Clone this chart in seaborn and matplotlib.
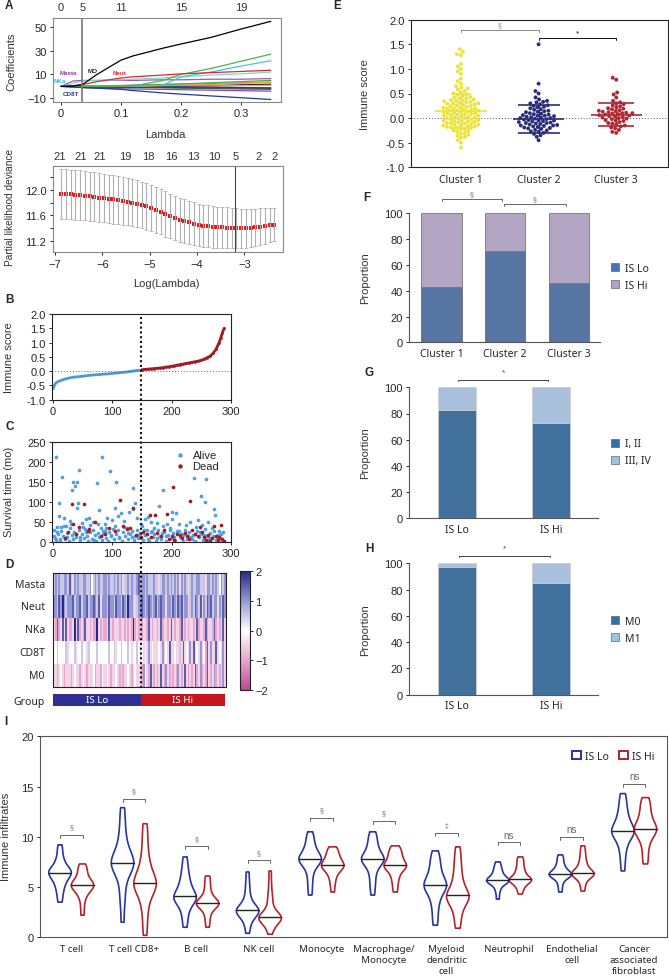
import numpy as np
import pandas as pd
import matplotlib
matplotlib.use("Agg")
import matplotlib.pyplot as plt
import matplotlib.transforms as mtrans
import seaborn as sns
from matplotlib.colors import LinearSegmentedColormap
from matplotlib.lines import Line2D
from matplotlib.patches import Patch

# ── DATA ─────────────────────────────────────────────────────
# A (top): lasso coefficient paths at knot values of lambda
lam_knots = [0, 0.02, 0.0356, 0.06, 0.1, 0.12, 0.17, 0.2, 0.25, 0.3, 0.35]
coef_paths = [
    [0, 0, 0, 0, 0, 0, 0, 0.3, 0.8, 1.3, 1.8],
    [0, 0, 0, 0, 0, 0, 0, 0, -0.5, -1, -1.5],
    [0, 0, 0, 0, 0, 0, 0, 0.2, 0.4, 0.6, 0.8],
    [0, 0, 0, 0, 0, 0, -0.2, -0.4, -0.7, -1.0, -1.3],
    [0, 0, 0, 0.3, 0.8, 1, 1.5, 2, 2.5, 3, 3.5],
    [0, 0, 0, 0, 0, 0, 0.5, 1, 1.5, 2.5, 3.5],
    [0, 0, -0.3, -0.5, -0.8, -1, -1.2, -1.5, -1.8, -2.2, -2.5],
    [0, -0.3, -0.6, -0.8, -0.8, -0.8, -0.9, -1, -1.2, -1.4, -1.6],
    [0, 0, 0, 0, 0.5, 1, 1.5, 2, 3, 4, 5],
    [0, -0.5, -1, -1.5, -2, -2.2, -2.5, -2.8, -3.2, -3.6, -4],
    [0, 4.5, 5, 5, 5, 5, 5.5, 5.5, 6, 6, 6.5],
    [0, 2.5, 4.5, 5, 5.5, 6, 7, 8, 9.5, 10.5, 12],
    [0, 0, 0, 0, 0, 0, 1, 8, 12, 17, 21.5],
    [0, 0, 0, 0, 0, 0.2, 5, 10, 15, 21, 27],
    [0, 0.5, 1.5, 4, 7, 8, 9.5, 10.5, 11.5, 12.5, 13.5],
    [0, -0.5, -1, -1.5, -2.5, -3.5, -5.5, -6.5, -8, -9.5, -11],
    [0, 0.3, 1.5, 10, 22, 25.5, 32, 35.5, 41, 48, 54.5],
]
coef_colors = ['#222222', '#999999', '#f08fc0', '#2a2a80', '#f26d6d', '#e6a23c',
               '#2e7d32', '#444444', '#3cb043', '#8e44ad', '#a05aa8', '#7fd6d6',
               '#45c3e6', '#4cb648', '#e3262b', '#1f3d99', '#000000']
lam_min = 0.0356
top_nz_pos = [0, 0.0356, 0.1, 0.2, 0.3]
top_nz_lab = ['0', '5', '11', '15', '19']
path_names = ['Masta', 'NKa', 'MO', 'Neut', 'CD8T']
path_name_x = [0.0128, -0.002, 0.052, 0.0973, 0.0167]
path_name_y = [11.3, 4.9, 13.2, 11.3, -5.7]
path_name_col = ['#8e3d99', '#35b5e0', '#222222', '#e3262b', '#2a3590']

# A (bottom): cross-validation curve
loglam = [-6.87, -6.77, -6.67, -6.57, -6.47, -6.37, -6.27, -6.17, -6.07, -5.97,
          -5.87, -5.77, -5.67, -5.57, -5.47, -5.37, -5.27, -5.17, -5.07, -4.97,
          -4.87, -4.77, -4.67, -4.57, -4.47, -4.37, -4.27, -4.17, -4.07, -3.97,
          -3.87, -3.77, -3.67, -3.57, -3.47, -3.37, -3.27, -3.17, -3.07, -2.97,
          -2.87, -2.77, -2.67, -2.57, -2.47, -2.37]
cv_mean = [11.94, 11.935, 11.93, 11.925, 11.92, 11.91, 11.90, 11.89, 11.88, 11.87,
           11.86, 11.85, 11.84, 11.83, 11.815, 11.80, 11.78, 11.76, 11.74, 11.72,
           11.69, 11.66, 11.62, 11.59, 11.56, 11.53, 11.51, 11.49, 11.47, 11.455,
           11.44, 11.43, 11.42, 11.415, 11.41, 11.405, 11.40, 11.395, 11.395, 11.40,
           11.405, 11.41, 11.42, 11.43, 11.445, 11.45]
cv_se = [0.39, 0.39, 0.39, 0.39, 0.39, 0.39, 0.385, 0.385, 0.385, 0.38,
         0.38, 0.38, 0.375, 0.375, 0.37, 0.37, 0.37, 0.365, 0.365, 0.36,
         0.36, 0.355, 0.355, 0.35, 0.35, 0.345, 0.34, 0.335, 0.335, 0.33,
         0.33, 0.325, 0.325, 0.32, 0.32, 0.32, 0.315, 0.315, 0.31, 0.305,
         0.30, 0.295, 0.29, 0.28, 0.27, 0.26]
loglam_min = -3.19
cv_nz_pos = [-6.91, -6.45, -6.05, -5.52, -5.04, -4.55, -4.09, -3.63, -3.19, -2.70, -2.37]
cv_nz_lab = ['21', '21', '21', '19', '18', '16', '13', '10', '5', '2', '2']

# B: sorted immune score
lo_rank = [0, 2, 5, 10, 15, 20, 25, 30, 35, 40, 45, 50, 55, 60, 65, 70, 75, 80, 85, 90,
           95, 100, 105, 110, 115, 120, 125, 130, 135, 140, 145]
lo_score = [-0.62, -0.5, -0.40, -0.35, -0.31, -0.28, -0.25, -0.23, -0.21, -0.20, -0.19,
            -0.18, -0.165, -0.15, -0.14, -0.13, -0.125, -0.115, -0.105, -0.10, -0.09,
            -0.08, -0.07, -0.06, -0.05, -0.04, -0.03, -0.01, 0.0, 0.02, 0.03]
hi_rank = [150, 155, 160, 165, 170, 175, 180, 185, 190, 195, 200, 205, 210, 215, 220,
           225, 230, 235, 240, 245, 250, 255, 260, 265, 270, 275, 280, 283, 286, 289]
hi_score = [0.05, 0.06, 0.07, 0.08, 0.09, 0.10, 0.11, 0.12, 0.14, 0.15, 0.17, 0.19, 0.21,
            0.23, 0.25, 0.27, 0.29, 0.31, 0.33, 0.35, 0.38, 0.42, 0.47, 0.52, 0.62, 0.76,
            0.98, 1.15, 1.35, 1.5]
split_rank = 148

# C: survival time by rank
alive_idx = [4, 10, 9, 15, 19, 32, 33, 37, 41, 44, 40, 42, 74, 77, 83, 91, 96, 106, 105, 109,
             135, 138, 135, 186, 179, 238, 258, 256, 249, 272, 274, 201, 207, 201,
             6, 13, 22, 28, 48, 55, 60, 68, 88, 100, 115, 120, 128, 142, 155, 160, 166, 175,
             185, 192, 213, 225, 232, 245, 252, 262, 268, 280, 150, 170,
             1, 3, 5, 8, 11, 14, 17, 20, 23, 26, 29, 31, 34, 36, 39, 43, 46, 49, 52, 54,
             57, 59, 62, 65, 67, 70, 72, 75, 78, 80, 82, 85, 87, 90, 93, 95, 98, 101, 103, 107,
             110, 112, 116, 118, 121, 124, 127, 130, 133, 136, 139, 141, 144, 147, 152, 156,
             159, 162, 165, 168, 171, 174, 177, 180, 183, 187, 190, 194, 197, 200, 203, 206,
             210, 214, 217, 220, 223, 227, 230, 234, 237, 240, 243, 246, 250, 253, 256, 259,
             262, 265, 269, 272, 275, 278, 282, 285, 287,
             2, 7, 12, 18, 24, 30, 38, 45, 50, 56, 63, 69, 76, 84, 89, 97, 104, 111, 119, 126,
             134, 143, 149, 154, 161, 167, 176, 184, 191, 198, 205, 212, 219, 226, 233, 241,
             248, 255, 263, 270, 277, 284]
alive_mo = [213, 97, 65, 163, 59, 130, 149, 139, 150, 180, 85, 98, 147, 80, 214, 59, 177, 150,
            84, 65, 134, 97, 82, 131, 89, 159, 157, 101, 114, 83, 68, 74, 71, 57,
            38, 36, 40, 52, 48, 58, 60, 50, 45, 55, 72, 52, 74, 60, 58, 62, 50, 48, 40, 45,
            45, 42, 50, 55, 42, 50, 35, 28, 40, 35,
            30, 10, 5, 20, 2, 28, 15, 8, 22, 3, 35, 18, 6, 25, 12, 30, 4, 20, 10, 33,
            15, 2, 25, 8, 30, 18, 3, 22, 12, 35, 5, 20, 28, 10, 2, 25, 15, 32, 6, 20,
            30, 12, 2, 25, 15, 35, 8, 20, 28, 4, 15, 30, 10, 22, 5, 18, 30, 2, 25, 12,
            20, 3, 30, 15, 8, 25, 2, 18, 30, 10, 22, 5, 28, 12, 20, 3, 30, 15, 25, 8,
            18, 2, 28, 12, 20, 5, 32, 15, 2, 22, 10, 28, 4, 18, 10, 2, 25,
            15, 25, 8, 40, 12, 45, 20, 12, 38, 25, 42, 5, 45, 28, 35, 18, 40, 10, 38, 22,
            12, 18, 45, 30, 8, 28, 10, 22, 15, 35, 12, 28, 18, 8, 12, 38, 25, 18, 10, 15,
            8, 20]
dead_idx = [31, 34, 52, 113, 135, 203, 231, 192, 163, 172, 71, 61, 44, 25, 20, 38, 58, 80,
            95, 118, 125, 140, 148, 152, 158, 165, 175, 182, 188, 195, 200, 205, 210, 215,
            218, 222, 226, 229, 235, 240, 244, 248, 251, 255, 258, 262, 265, 268, 272, 275,
            278, 281, 284, 286, 288, 130, 105, 88]
dead_mo = [96, 45, 96, 104, 85, 137, 102, 70, 67, 67, 49, 31, 37, 25, 10, 20, 28, 15, 35, 40,
           33, 18, 12, 25, 20, 12, 22, 15, 30, 8, 15, 5, 20, 18, 10, 22, 15, 8, 30, 20,
           15, 38, 25, 12, 5, 18, 3, 10, 40, 15, 5, 12, 42, 8, 2, 35, 28, 20]

# D: heatmap rows (digit d -> value d/2 - 2)
hm_names = ['Masta', 'Neut', 'NKa', 'CD8T', 'M0']
hm_rows = [
    "5656556657" "5365655665" "5645656556" "6565565656" "3556565567"
    "5665655565" "5356656565" "6563656535" "6556655536" "6565654656",
    "6657686566" "6756675667" "5667657366" "6576657665" "7658665356"
    "6765676567" "5676636657" "6576756635" "6576573657" "6756636576",
    "3272373732" "2383723273" "3232283232" "2373233323" "3232328232"
    "3233273233" "2372332373" "2332732323" "3237233272" "3327232373",
    "4454444534" "4453445443" "5444454444" "4454453445" "4445434454"
    "3434363433" "3436343733" "4335373436" "3734363427" "3633734363",
    "3323432333" "2343323432" "3334233243" "3432334323" "2334323433"
    "3264327323" "2373263232" "3263237323" "2372362327" "3236232363",
]
group_names = ['IS Lo', 'IS Hi']
group_n = [148, 142]

# E: immune score per cluster
clusters = ['Cluster 1', 'Cluster 2', 'Cluster 3']
c1_score = [1.40, 1.35, 1.30, 1.28, 1.10, 1.05, 1.00, 0.95, 0.90, 0.80, 0.75, 0.70, 0.65, 0.62,
            0.60, 0.58, 0.55, 0.52, 0.50, 0.48, 0.47, 0.45, 0.43, 0.42, 0.40, 0.40, 0.38, 0.37,
            0.36, 0.35, 0.34, 0.33, 0.32, 0.31, 0.30, 0.30, 0.29, 0.28, 0.27, 0.26, 0.25, 0.24,
            0.23, 0.22, 0.21, 0.20, 0.20, 0.19, 0.18, 0.17, 0.16, 0.15, 0.15, 0.14, 0.13, 0.12,
            0.11, 0.10, 0.10, 0.09, 0.08, 0.07, 0.06, 0.05, 0.05, 0.04, 0.03, 0.02, 0.01, 0.00,
            0.00, -0.01, -0.02, -0.03, -0.04, -0.05, -0.05, -0.06, -0.07, -0.08, -0.09, -0.10,
            -0.10, -0.11, -0.12, -0.13, -0.14, -0.15, -0.15, -0.16, -0.17, -0.18, -0.19, -0.20,
            -0.20, -0.22, -0.23, -0.25, -0.26, -0.28, -0.30, -0.32, -0.34, -0.36, -0.38, -0.40,
            -0.45, -0.50, -0.60]
c2_score = [1.50, 0.70, 0.55, 0.50, 0.42, 0.38, 0.35, 0.33, 0.32, 0.30, 0.28, 0.26, 0.25, 0.23,
            0.22, 0.20, 0.18, 0.17, 0.15, 0.14, 0.13, 0.12, 0.10, 0.09, 0.08, 0.07, 0.06, 0.05,
            0.05, 0.04, 0.03, 0.02, 0.01, 0.00, 0.00, -0.01, -0.02, -0.03, -0.04, -0.05, -0.05,
            -0.06, -0.07, -0.08, -0.09, -0.10, -0.10, -0.11, -0.12, -0.13, -0.14, -0.15, -0.15,
            -0.16, -0.17, -0.18, -0.19, -0.20, -0.21, -0.22, -0.24, -0.25, -0.27, -0.28, -0.30,
            -0.32, -0.35, -0.38, -0.45]
c3_score = [0.82, 0.78, 0.52, 0.48, 0.42, 0.35, 0.32, 0.30, 0.28, 0.26, 0.24, 0.22, 0.20, 0.19,
            0.18, 0.16, 0.15, 0.14, 0.13, 0.12, 0.11, 0.10, 0.10, 0.09, 0.08, 0.07, 0.06, 0.05,
            0.04, 0.03, 0.02, 0.01, 0.00, -0.01, -0.02, -0.04, -0.05, -0.06, -0.08, -0.10,
            -0.11, -0.13, -0.15, -0.17, -0.19, -0.21, -0.24, -0.28, -0.30]
e_mean = [0.15, -0.02, 0.07]
e_sd = [0.35, 0.28, 0.24]

# F, G, H: stacked proportions
f_cats = ['Cluster 1', 'Cluster 2', 'Cluster 3']
f_lo = [43, 70.5, 46]
g_cats = ['IS Lo', 'IS Hi']
g_early = [83, 73]
h_m0 = [97, 85]

# I: immune infiltrates per cell type
cells = ['T cell', 'T cell CD8+', 'B cell', 'NK cell', 'Monocyte', 'Macrophage/\nMonocyte',
         'Myeloid\ndendritic\ncell', 'Neutrophil', 'Endothelial\ncell',
         'Cancer\nassociated\nfibroblast']
inf_lo = [
    [3.5, 4.1, 4.6, 5.0, 5.3, 5.6, 5.8, 6.0, 6.1, 6.3, 6.4, 6.5, 6.6, 6.7, 6.8, 7.0, 7.3, 7.6, 8.0, 8.6, 9.2],
    [1.5, 3.2, 4.2, 5.2, 5.9, 6.4, 6.8, 7.0, 7.2, 7.3, 7.4, 7.6, 7.8, 8.1, 8.4, 8.8, 9.3, 10.0, 10.8, 11.8, 12.9],
    [1.0, 1.8, 2.4, 2.9, 3.2, 3.5, 3.7, 3.8, 3.9, 4.0, 4.1, 4.3, 4.5, 4.8, 5.0, 5.3, 5.7, 6.1, 6.6, 7.2, 8.0],
    [0.4, 1.0, 1.5, 1.8, 2.0, 2.2, 2.35, 2.45, 2.55, 2.6, 2.7, 2.8, 2.9, 3.0, 3.2, 3.5, 3.8, 4.3, 4.9, 5.6, 6.5],
    [4.2, 5.0, 5.7, 6.3, 6.8, 7.1, 7.3, 7.5, 7.6, 7.7, 7.8, 7.9, 8.0, 8.2, 8.4, 8.6, 8.9, 9.2, 9.6, 10.0, 10.5],
    [4.2, 5.0, 5.6, 6.2, 6.7, 7.0, 7.3, 7.5, 7.6, 7.7, 7.8, 7.9, 8.0, 8.2, 8.4, 8.7, 9.0, 9.3, 9.7, 10.1, 10.5],
    [1.2, 2.0, 2.8, 3.4, 3.9, 4.3, 4.6, 4.8, 5.0, 5.1, 5.2, 5.4, 5.6, 5.8, 6.1, 6.4, 6.8, 7.2, 7.6, 8.1, 8.6],
    [3.8, 4.4, 4.8, 5.1, 5.3, 5.4, 5.5, 5.55, 5.6, 5.65, 5.7, 5.8, 5.9, 6.0, 6.1, 6.3, 6.5, 6.7, 6.9, 7.2, 7.5],
    [4.5, 5.0, 5.4, 5.7, 5.9, 6.0, 6.1, 6.15, 6.2, 6.25, 6.3, 6.4, 6.5, 6.6, 6.7, 6.9, 7.1, 7.3, 7.6, 7.9, 8.2],
    [6.6, 7.6, 8.4, 9.0, 9.5, 9.8, 10.1, 10.3, 10.4, 10.5, 10.6, 10.8, 11.0, 11.2, 11.5, 11.8, 12.2, 12.6, 13.1, 13.7, 14.3],
]
inf_hi = [
    [2.2, 3.0, 3.7, 4.1, 4.4, 4.6, 4.8, 4.9, 5.0, 5.1, 5.2, 5.3, 5.4, 5.5, 5.7, 5.9, 6.1, 6.4, 6.7, 7.0, 7.3],
    [0.2, 1.5, 2.6, 3.4, 4.0, 4.5, 4.8, 5.0, 5.2, 5.3, 5.4, 5.6, 5.9, 6.2, 6.6, 7.0, 7.6, 8.3, 9.2, 10.2, 11.3],
    [1.0, 1.6, 2.1, 2.5, 2.8, 3.0, 3.1, 3.2, 3.3, 3.35, 3.4, 3.5, 3.6, 3.7, 3.9, 4.1, 4.4, 4.8, 5.2, 5.7, 6.1],
    [0.3, 0.8, 1.1, 1.4, 1.6, 1.7, 1.8, 1.85, 1.9, 1.95, 2.0, 2.1, 2.2, 2.4, 2.6, 3.0, 3.5, 4.0, 4.6, 5.5, 6.6],
    [4.5, 5.2, 5.7, 6.1, 6.4, 6.6, 6.8, 6.9, 7.0, 7.1, 7.2, 7.3, 7.4, 7.6, 7.7, 7.9, 8.1, 8.3, 8.5, 8.8, 9.0],
    [4.5, 5.1, 5.6, 6.0, 6.3, 6.6, 6.8, 6.9, 7.0, 7.1, 7.2, 7.3, 7.4, 7.6, 7.8, 8.0, 8.2, 8.4, 8.6, 8.9, 9.1],
    [0.9, 1.6, 2.3, 2.8, 3.2, 3.5, 3.8, 3.9, 4.0, 4.1, 4.2, 4.4, 4.7, 5.0, 5.4, 5.8, 6.3, 6.9, 7.5, 8.2, 9.0],
    [4.3, 4.7, 5.0, 5.2, 5.4, 5.5, 5.6, 5.65, 5.7, 5.75, 5.8, 5.9, 6.0, 6.2, 6.4, 6.6, 6.8, 7.1, 7.4, 7.7, 8.0],
    [4.6, 5.1, 5.5, 5.8, 6.0, 6.1, 6.2, 6.25, 6.3, 6.35, 6.4, 6.5, 6.6, 6.8, 7.0, 7.2, 7.5, 7.8, 8.2, 8.6, 9.1],
    [7.3, 8.0, 8.7, 9.3, 9.7, 10.0, 10.3, 10.5, 10.6, 10.7, 10.8, 11.0, 11.2, 11.4, 11.7, 12.0, 12.3, 12.7, 13.1, 13.5, 13.9],
]
inf_sig = ['§', '§', '§', '§', '§', '§', '‡', 'ns', 'ns', 'ns']
inf_sig_y = [10.2, 13.8, 9.1, 7.7, 11.9, 11.6, 10.35, 9.45, 10.0, 15.25]

# ── STYLE ────────────────────────────────────────────────────
W, H = 669, 979
sns.set_theme(style="ticks")
plt.rcParams['font.family'] = ['Liberation Sans', 'DejaVu Sans']
plt.rcParams.update({
    'xtick.major.size': 2.5, 'ytick.major.size': 2.5,
    'xtick.major.width': 0.7, 'ytick.major.width': 0.7,
    'xtick.major.pad': 2, 'ytick.major.pad': 2,
    'xtick.labelsize': 8, 'ytick.labelsize': 8,
    'axes.linewidth': 0.8, 'axes.edgecolor': '#222222',
})
HUMAN = 'Noto Sans'
C_LO, C_HI = '#2834a0', '#b3232b'

fig = plt.figure(figsize=(W / 100, H / 100), dpi=100)


def px_axes(l, t, r, b):
    return fig.add_axes([l / W, 1 - b / H, (r - l) / W, (b - t) / H])


def letter(x, y, s):
    fig.text(x / W, 1 - y / H, s, fontsize=8.5, weight='bold', va='center', ha='left')


def ylab(x, y, s, fs=8, fam=None):
    fig.text(x / W, 1 - y / H, s, fontsize=fs, rotation=90, ha='center', va='center',
             family=fam if fam else plt.rcParams['font.family'], color='#333333')


def bracket(ax, x1, x2, y, h, color, txt, ty, fs=5):
    ax.plot([x1, x1, x2, x2], [y - h, y, y, y - h], color=color, lw=0.7, clip_on=False)
    ax.text((x1 + x2) / 2, ty, txt, ha='center', va='center', fontsize=fs, color=color,
            clip_on=False)


# ── A (top): coefficient paths ───────────────────────────────
axA = px_axes(53, 19, 281, 103)
dfA = pd.DataFrame({
    'lam': lam_knots * len(coef_paths),
    'coef': sum(coef_paths, []),
    'path': np.repeat(np.arange(len(coef_paths)), len(lam_knots)),
})
sns.lineplot(data=dfA, x='lam', y='coef', hue='path', palette=coef_colors, lw=0.9,
             legend=False, estimator=None, sort=False, ax=axA)
axA.axvline(lam_min, color='#777777', lw=1.2)
axA.set_xlim(-0.0134, 0.367)
axA.set_ylim(-13.1, 57.3)
axA.set_xticks([0, 0.1, 0.2, 0.3], ['0', '0.1', '0.2', '0.3'])
axA.set_yticks([-10, 10, 30, 50])
axA.set_xlabel('')
axA.set_ylabel('')
for sp in axA.spines.values():
    sp.set_color('#888888')
blendA = mtrans.blended_transform_factory(axA.transData, axA.transAxes)
for p, lab in zip(top_nz_pos, top_nz_lab):
    axA.text(p, 1.07, lab, transform=blendA, ha='center', va='bottom', fontsize=8, color='#333')
for nm, x, y, c in zip(path_names, path_name_x, path_name_y, path_name_col):
    axA.text(x, y, nm, fontsize=4.5, color=c, ha='center', va='center', weight='bold')
fig.text(165 / W, 1 - 135 / H, 'Lambda', ha='center', va='center', fontsize=8, color='#333')
ylab(11.7, 61.5, 'Coefficients')

# ── A (bottom): CV deviance ──────────────────────────────────
axCV = px_axes(52.7, 166.7, 283.3, 253.3)
axCV.errorbar(loglam, cv_mean, yerr=cv_se, fmt='none', ecolor='#b0b0b0', elinewidth=0.8,
              capsize=1.2, capthick=0.6)
sns.scatterplot(x=loglam, y=cv_mean, color='#e8161b', s=7, marker='s', linewidth=0, ax=axCV)
axCV.axvline(loglam_min, color='#444444', lw=0.8)
axCV.set_xlim(-7.05, -2.18)
axCV.set_ylim(11.02, 12.38)
axCV.set_xticks([-7, -6, -5, -4, -3])
axCV.set_yticks([11.2, 11.4, 11.6, 11.8, 12.0, 12.2], ['11.2', '', '11.6', '', '12.0', ''])
for sp in axCV.spines.values():
    sp.set_color('#888888')
blendCV = mtrans.blended_transform_factory(axCV.transData, axCV.transAxes)
for p, lab in zip(cv_nz_pos, cv_nz_lab):
    axCV.text(p, 1.05, lab, transform=blendCV, ha='center', va='bottom', fontsize=8, color='#333')
fig.text(166.7 / W, 1 - 284 / H, 'Log(Lambda)', ha='center', va='center', fontsize=8, color='#333')
ylab(10, 207, 'Partial likelihood deviance', fs=7.3)
letter(5, 6, 'A')

# ── B: ranked immune score ───────────────────────────────────
axB = px_axes(52, 315, 230.7, 400.7)
sns.lineplot(x=lo_rank, y=lo_score, color='#4d98d9', lw=2.0, ax=axB)
sns.lineplot(x=hi_rank, y=hi_score, color='#a01c22', lw=2.0, ax=axB,
             marker='o', markersize=2, markeredgewidth=0)
axB.axhline(0, color='#666666', lw=0.7, ls=(0, (1, 2)))
axB.set_xlim(-2, 300)
axB.set_ylim(-1, 2)
axB.set_xticks([0, 100, 200, 300])
axB.set_yticks([-1.0, -0.5, 0.0, 0.5, 1.0, 1.5, 2.0])
axB.yaxis.set_major_formatter(plt.FormatStrFormatter('%.1f'))
ylab(9.3, 358, 'Immune score')
letter(5, 300, 'B')

# ── C: survival time ─────────────────────────────────────────
axC = px_axes(52, 443.3, 230.7, 542.7)
sns.scatterplot(x=alive_idx, y=alive_mo, color='#4f9fe3', s=7, linewidth=0, label='Alive', ax=axC)
sns.scatterplot(x=dead_idx, y=dead_mo, color='#a51b1b', s=7, linewidth=0, label='Dead', ax=axC)
axC.set_xlim(-2, 300)
axC.set_ylim(0, 250)
axC.set_xticks([0, 100, 200, 300])
axC.set_yticks([0, 50, 100, 150, 200, 250])
axC.legend(loc='upper right', frameon=False, fontsize=8, handletextpad=0.1, borderaxespad=0.3,
           labelspacing=0.1, markerscale=1.2, bbox_to_anchor=(0.98, 1.0))
ylab(9, 492, 'Survival time (mo)')
letter(5, 427, 'C')

# ── D: heatmap + group bar ───────────────────────────────────
hm_vals = np.array([[int(c) / 2 - 2 for c in row] for row in hm_rows])
cmap_hm = LinearSegmentedColormap.from_list(
    'pw', ['#c0479a', '#e6a6d0', '#ffffff', '#9598d3', '#232a8a'])
axD = px_axes(53.3, 573.7, 225.7, 687.5)
cax = px_axes(240, 572, 250, 691)
sns.heatmap(hm_vals, cmap=cmap_hm, vmin=-2, vmax=2, ax=axD, cbar_ax=cax,
            xticklabels=False, yticklabels=hm_names, cbar_kws={'ticks': [-2, -1, 0, 1, 2]})
axD.tick_params(axis='y', length=0, pad=6, labelsize=7.5, rotation=0)
for lab in axD.get_yticklabels():
    lab.set_fontfamily(HUMAN)
for sp in axD.spines.values():
    sp.set_visible(True)
    sp.set_color('#222222')
    sp.set_linewidth(0.8)
cbar = axD.collections[0].colorbar
cbar.outline.set_edgecolor('#222222')
cbar.outline.set_linewidth(0.8)
cax.tick_params(labelsize=8, length=2)
cax.yaxis.set_major_formatter(plt.FuncFormatter(lambda v, p: f'{int(round(v))}'.replace('-', '\u2212')))

axGrp = px_axes(53.3, 695, 225, 706.7)
grp_left = np.concatenate([[0], np.cumsum(group_n)[:-1]])
axGrp.barh([0] * len(group_n), group_n, left=grp_left, height=1.0,
           color=['#2e3192', '#c4161c'], edgecolor='none')
for lft, n, nm in zip(grp_left, group_n, group_names):
    axGrp.text(lft + n / 2, 0, nm, color='white', ha='center', va='center', fontsize=7,
               family=HUMAN)
axGrp.set_xlim(0, sum(group_n))
axGrp.set_ylim(-0.5, 0.5)
axGrp.set_xticks([])
axGrp.set_yticks([0], ['Group'])
axGrp.tick_params(axis='y', length=0, pad=6, labelsize=7.5)
for lab in axGrp.get_yticklabels():
    lab.set_fontfamily(HUMAN)
for sp in axGrp.spines.values():
    sp.set_visible(False)
letter(5, 565, 'D')

# dotted divider running through B, C and D
xs = fig.transFigure.inverted().transform(axB.transData.transform((split_rank, 0)))[0]
fig.add_artist(Line2D([xs, xs], [1 - 318 / H, 1 - 688 / H], transform=fig.transFigure,
                      color='#111111', lw=1.5, ls=(0, (1, 1.3))))

# ── E: immune score per cluster ─────────────────────────────
axE = px_axes(411, 20.7, 667.5, 168.3)
dfE = pd.DataFrame({
    'cluster': [clusters[0]] * len(c1_score) + [clusters[1]] * len(c2_score)
               + [clusters[2]] * len(c3_score),
    'score': c1_score + c2_score + c3_score,
})
e_cols = ['#ece33a', '#2b2d78', '#b02630']
axE.axhline(0, color='#555555', lw=0.7, ls=(0, (1, 2)))
sns.swarmplot(data=dfE, x='cluster', y='score', hue='cluster', palette=e_cols, order=clusters,
              size=2.8, linewidth=0, legend=False, ax=axE)
sd_halfw = [0.13, 0.27, 0.23]
for i, (m, s) in enumerate(zip(e_mean, e_sd)):
    axE.hlines(m, i - 0.33, i + 0.33, color=e_cols[i], lw=1.2, zorder=5)
    axE.hlines([m - s, m + s], i - sd_halfw[i], i + sd_halfw[i], color=e_cols[i], lw=1.2, zorder=5)
    axE.vlines(i, m - s, m + s, color=e_cols[i], lw=1.0, zorder=5)
axE.set_xlim(-0.643, 2.66)
axE.set_ylim(-1, 2)
axE.set_yticks([-1.0, -0.5, 0.0, 0.5, 1.0, 1.5, 2.0])
axE.yaxis.set_major_formatter(plt.FormatStrFormatter('%.1f'))
axE.set_xlabel('')
axE.set_ylabel('')
axE.tick_params(axis='x', length=0, pad=5)
for lab in axE.get_xticklabels():
    lab.set_fontfamily(HUMAN)
    lab.set_fontsize(7.5)
bracket(axE, 0, 1, 1.797, 0.053, '#888888', '§', 1.90)
bracket(axE, 1, 2, 1.634, 0.045, '#111111', '*', 1.73, fs=6)
ylab(365, 95, 'Immune score')
letter(333, 6, 'E')


# ── F, G, H: stacked bars ───────────────────────────────────
def stacked(ax, cats, lower, lo_col, hi_col, width, edge):
    sns.barplot(x=cats, y=[100] * len(cats), color=hi_col, width=width, edgecolor=edge,
                linewidth=0.6, ax=ax)
    sns.barplot(x=cats, y=lower, color=lo_col, width=width, edgecolor=edge, linewidth=0.6,
                ax=ax)
    ax.set_ylim(0, 100)
    ax.set_yticks([0, 20, 40, 60, 80, 100])
    ax.tick_params(axis='x', length=0, pad=4)
    for lab in ax.get_xticklabels():
        lab.set_fontfamily(HUMAN)
        lab.set_fontsize(7.5)
    sns.despine(ax=ax)
    for sp in ('left', 'bottom'):
        ax.spines[sp].set_color('#555555')


def side_legend(ax, labels, cols, top_px):
    hd = [Patch(facecolor=c, edgecolor='#666666', lw=0.5, label=l) for l, c in zip(labels, cols)]
    ax.legend(handles=hd, loc='upper left', bbox_to_anchor=(611 / W, 1 - top_px / H),
              bbox_transform=fig.transFigure, frameon=False, borderpad=0, borderaxespad=0,
              handlelength=0.8, handleheight=0.8, handletextpad=0.5, labelspacing=0.55,
              prop={'family': HUMAN, 'size': 7.5})


axF = px_axes(409, 214.3, 600, 343.3)
stacked(axF, f_cats, f_lo, '#4a72b0', '#b2a1c9', 0.63, '#777777')
axF.set_xlim(-0.51, 2.49)
bracket(axF, 0.01, 0.95, 111.1, 1.3, '#666666', '§', 115.0)
bracket(axF, 0.98, 1.95, 107.2, 1.8, '#666666', '§', 111.6)
side_legend(axF, ['IS Lo', 'IS Hi'], ['#4a72b0', '#b2a1c9'], 264)
ylab(365, 278, 'Proportion')
letter(363, 198, 'F')

axG = px_axes(409, 388.3, 598.3, 519.3)
stacked(axG, g_cats, g_early, '#3270ac', '#a0c0e4', 0.4, '#d0d0d0')
axG.set_xlim(-0.51, 1.5)
bracket(axG, 0.01, 0.97, 105.8, 1.2, '#444444', '*', 111.7, fs=6)
side_legend(axG, ['I, II', 'III, IV'], ['#3270ac', '#a0c0e4'], 439.5)
ylab(365, 453, 'Proportion')
letter(365, 373, 'G')

axH = px_axes(409, 564.3, 598.3, 695.7)
stacked(axH, g_cats, h_m0, '#3270ac', '#a0c0e4', 0.4, '#d0d0d0')
axH.set_xlim(-0.51, 1.5)
bracket(axH, 0.02, 0.99, 105.8, 1.2, '#444444', '*', 111.4, fs=6)
side_legend(axH, ['M0', 'M1'], ['#3270ac', '#a0c0e4'], 617)
ylab(365, 630, 'Proportion')
letter(365, 549, 'H')

# ── I: immune infiltrates ───────────────────────────────────
axI = px_axes(40, 737.3, 666.7, 938.3)
rows = []
for c, lo, hi in zip(cells, inf_lo, inf_hi):
    rows += [(c, 'IS Lo', v) for v in lo] + [(c, 'IS Hi', v) for v in hi]
dfI = pd.DataFrame(rows, columns=['cell', 'group', 'value'])
n0 = len(axI.lines)
sns.violinplot(data=dfI, x='cell', y='value', hue='group', order=cells,
               hue_order=['IS Lo', 'IS Hi'], palette={'IS Lo': C_LO, 'IS Hi': C_HI},
               fill=False, inner='quart', cut=0, density_norm='width', width=0.72,
               linewidth=1.2, bw_adjust=0.6, legend=False, ax=axI,
               inner_kws={'color': '#222222', 'linewidth': 1.0})
for k, ln in enumerate(axI.lines[n0:]):
    if k % 3 == 1:
        ln.set_linestyle('-')
        ln.set_color('#222222')
    else:
        ln.set_visible(False)
for i, (s, y) in enumerate(zip(inf_sig, inf_sig_y)):
    bracket(axI, i - 0.18, i + 0.18, y, 0.3, '#666666', s, y + 0.75,
            fs=5 if s != 'ns' else 7)
axI.set_xlim(-0.5, 9.52)
axI.set_ylim(0, 20)
axI.set_yticks([0, 5, 10, 15, 20])
axI.set_xlabel('')
axI.set_ylabel('')
axI.tick_params(axis='x', length=0, pad=5)
for lab in axI.get_xticklabels():
    lab.set_fontfamily(HUMAN)
    lab.set_fontsize(7)
    lab.set_linespacing(1.25)
for sp in axI.spines.values():
    sp.set_color('#555555')
hdI = [Patch(facecolor='white', edgecolor=C_LO, lw=1.4, label='IS Lo'),
       Patch(facecolor='white', edgecolor=C_HI, lw=1.4, label='IS Hi')]
axI.legend(handles=hdI, loc='upper right', bbox_to_anchor=(0.995, 0.975), ncol=2,
           frameon=False, handlelength=0.8, handleheight=0.8, handletextpad=0.4,
           columnspacing=1.0, prop={'family': HUMAN, 'size': 7.5})
ylab(6, 837, 'Immune infiltrates')
letter(4, 722, 'I')

fig.savefig('out.png', dpi=100, facecolor='white')
